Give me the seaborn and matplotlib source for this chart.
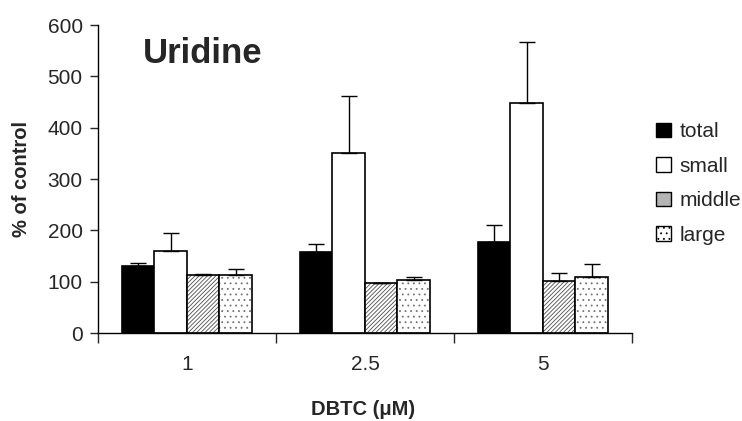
import pandas as pd
import numpy as np
import matplotlib
matplotlib.use("Agg")
import matplotlib.pyplot as plt
import matplotlib.patches as mpatches
import seaborn as sns

# values
doses = ["1", "2.5", "5"]
sizes = ["total", "small", "middle", "large"]
total = [130, 157, 178]
small = [159, 351, 448]
middle = [113, 97, 101]
large = [113, 103, 109]
total_err = [7, 17, 33]
small_err = [35, 111, 118]
middle_err = [2, 1, 15]
large_err = [12, 7, 26]
y_ticks = [0, 100, 200, 300, 400, 500, 600]

means = {"total": total, "small": small, "middle": middle, "large": large}
errs = {"total": total_err, "small": small_err, "middle": middle_err, "large": large_err}

rows = []
for s in sizes:
    for d, v in zip(doses, means[s]):
        rows.append({"dose": d, "size": s, "value": v})
df = pd.DataFrame(rows)

sns.set_style("white")
plt.rcParams["font.family"] = ["Liberation Sans", "DejaVu Sans"]
plt.rcParams["hatch.linewidth"] = 0.6

fig = plt.figure(figsize=(7.42, 4.21), dpi=100)
ax = fig.add_axes([0.132, 0.209, 0.7197, 0.7316])

palette = {"total": "black", "small": "white", "middle": "white", "large": "white"}
sns.barplot(data=df, x="dose", y="value", hue="size", order=doses, hue_order=sizes,
            palette=palette, width=0.73, errorbar=None, edgecolor="black",
            linewidth=1.2, legend=False, ax=ax)

hatches = {"total": None, "small": None, "middle": "////////", "large": "..."}
hatch_cols = {"middle": (0.3, 0.3, 0.3, 1), "large": (0.45, 0.45, 0.45, 1)}
for s, cont in zip(sizes, ax.containers):
    xs = []
    for bar in cont:
        if hatches[s]:
            bar.set_hatch(hatches[s])
            bar._hatch_color = hatch_cols[s]
        xs.append(bar.get_x() + bar.get_width() / 2)
    ax.errorbar(xs, means[s], yerr=[np.zeros(len(xs)), errs[s]], fmt="none",
                ecolor="black", elinewidth=1, capsize=6, capthick=1, zorder=3)

ax.set_ylim(0, 600)
ax.set_xlim(-0.5, len(doses) - 0.5)
ax.set_yticks(y_ticks)
ax.tick_params(axis="y", direction="out", length=6, width=1, pad=5, labelsize=15, left=True)

# boundary ticks between groups, labels at group centres
ax.set_xticks(np.arange(len(doses) + 1) - 0.5)
ax.set_xticklabels([])
ax.set_xticks(np.arange(len(doses)), minor=True)
ax.set_xticklabels(doses, minor=True)
ax.tick_params(axis="x", which="major", direction="out", length=7, width=1, bottom=True)
ax.tick_params(axis="x", which="minor", length=0, pad=16, labelsize=15)

for side in ["top", "right"]:
    ax.spines[side].set_visible(False)
for side in ["left", "bottom"]:
    ax.spines[side].set_color("black")
    ax.spines[side].set_linewidth(1)

ax.set_xlabel("DBTC (\u03bcM)", fontsize=14.5, fontweight="bold")
ax.set_ylabel("% of control", fontsize=14.5, fontweight="bold")
ax.xaxis.set_label_coords(0.496, -0.218)
ax.yaxis.set_label_coords(-0.125, 0.5)

ax.text(0.084, 0.877, "Uridine", transform=ax.transAxes, fontsize=25,
        fontweight="bold", va="baseline", ha="left")

handles = [
    mpatches.Patch(facecolor="black", edgecolor="black", linewidth=1),
    mpatches.Patch(facecolor="white", edgecolor="black", linewidth=1),
    mpatches.Patch(facecolor="#b4b4b4", edgecolor="black", linewidth=1),
    mpatches.Patch(facecolor="white", edgecolor="black", linewidth=1, hatch="..."),
]
fig.legend(handles, sizes, loc="upper left", bbox_to_anchor=(0.884, 0.71),
           frameon=False, fontsize=15, handlelength=0.7, handleheight=0.7,
           handletextpad=0.45, labelspacing=0.75, borderpad=0, borderaxespad=0)

fig.savefig("out.png", dpi=100)
